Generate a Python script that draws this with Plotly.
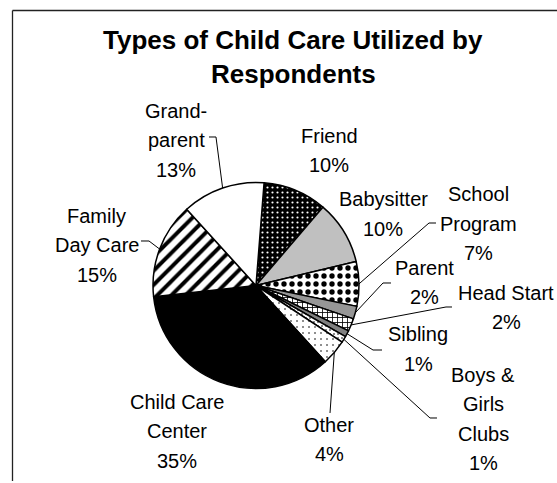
import math
import plotly.graph_objects as go

# ---------------- data ----------------
categories = ["Friend", "Babysitter", "School Program", "Parent", "Head Start", "Sibling",
              "Boys & Girls Clubs", "Other", "Child Care Center", "Family Day Care", "Grandparent"]
percent_values = [10, 10, 7, 2, 2, 1, 1, 4, 35, 15, 13]
label_names = [["Friend"], ["Babysitter"], ["School", "Program"], ["Parent"], ["Head Start"],
               ["Sibling"], ["Boys &", "Girls", "Clubs"], ["Other"], ["Child Care", "Center"],
               ["Family", "Day Care"], ["Grand-", "parent"]]
title_lines = ["Types of Child Care Utilized by", "Respondents"]

# ---------------- styles ----------------
pattern_shape = [".", "", ".", "", "+", "", ".", ".", "", "/", ""]
pattern_fg = ["white", "#c0c0c0", "black", "#969696", "black", "#808080", "#606060",
              "black", "black", "black", "white"]
pattern_bg = ["black", "#c0c0c0", "white", "#969696", "white", "#808080", "white",
              "white", "black", "white", "white"]
pattern_size = [5, 8, 8, 8, 5, 8, 4, 6, 8, 10, 8]
pattern_solid = [0.15, 0.3, 0.35, 0.3, 0.3, 0.3, 0.2, 0.06, 0.3, 0.4, 0.3]

W, H = 557, 483
CX, CY, R = 256, 285.5, 103
ROTATION = 4.5
FONT = "Liberation Sans, Arial, sans-serif"
LABEL_SIZE = 20
LINE_GAP = 29.5

# label placement (pixel center x, first baseline y, leader knee points near the label)
label_layout = {
    "Friend": (329, 143, None),
    "Babysitter": (383, 206.5, None),
    "School Program": (478, 201.5, [(436, 223), (429, 223)]),
    "Parent": (424, 275, [(391, 283), (383, 283)]),
    "Head Start": (506, 300, [(452, 307), (446, 307)]),
    "Sibling": (418, 341.5, [(382, 350), (373, 350)]),
    "Boys & Girls Clubs": (483, 382, [(437, 418), (430, 418)]),
    "Other": (329, 432, [(330, 413)]),
    "Child Care Center": (177, 409, None),
    "Family Day Care": (96.5, 223, [(141, 241), (149, 241)]),
    "Grandparent": (176, 118, [(209, 137), (216, 137)]),
}


def px(x):
    return x / W


def py(y):
    return 1 - y / H


fig = go.Figure()
fig.add_trace(go.Pie(
    labels=categories,
    values=percent_values,
    sort=False,
    direction="clockwise",
    rotation=ROTATION,
    textinfo="none",
    hoverinfo="label+percent",
    showlegend=False,
    domain=dict(x=[px(CX - R), px(CX + R)], y=[py(CY + R), py(CY - R)]),
    marker=dict(
        colors=pattern_bg,
        line=dict(color="black", width=1.5),
        pattern=dict(shape=pattern_shape, fgcolor=pattern_fg, bgcolor=pattern_bg,
                     size=pattern_size, solidity=pattern_solid, fillmode="replace"),
    ),
))

annotations = []
shapes = []

# title
title_baselines = [49.3, 83]
for txt, base in zip(title_lines, title_baselines):
    annotations.append(dict(
        text=f"<b>{txt}</b>", x=px(293), y=py(base - 9.3), xref="paper", yref="paper",
        xanchor="center", yanchor="middle", showarrow=False,
        font=dict(family=FONT, size=26, color="black")))

# slice labels and leader lines
total = sum(percent_values)
cum = 0
for cat, val, names in zip(categories, percent_values, label_names):
    mid = ROTATION + 360 * (cum + val / 2) / total
    cum += val
    cx, base, knees = label_layout[cat]
    lines = names + [f"{val}%"]
    for i, line in enumerate(lines):
        b = base + i * LINE_GAP
        annotations.append(dict(
            text=line, x=px(cx), y=py(b - 7.2), xref="paper", yref="paper",
            xanchor="center", yanchor="middle", showarrow=False,
            font=dict(family=FONT, size=LABEL_SIZE, color="black")))
    if knees:
        a = math.radians(mid)
        ex, ey = CX + R * math.sin(a), CY - R * math.cos(a)
        pts = knees + [(ex, ey)]
        path = "M " + " L ".join(f"{px(x):.5f},{py(y):.5f}" for x, y in pts)
        shapes.append(dict(type="path", path=path, xref="paper", yref="paper",
                           line=dict(color="black", width=1)))

# chart frame (top and left edges visible)
shapes.append(dict(type="line", xref="paper", yref="paper", x0=px(12.5), x1=px(W + 5),
                   y0=py(10.5), y1=py(10.5), line=dict(color="#222222", width=1.3)))
shapes.append(dict(type="line", xref="paper", yref="paper", x0=px(12.5), x1=px(12.5),
                   y0=py(10.5), y1=py(481), line=dict(color="#222222", width=1.3)))

fig.update_layout(
    width=W, height=H,
    margin=dict(l=0, r=0, t=0, b=0),
    paper_bgcolor="white", plot_bgcolor="white",
    annotations=annotations, shapes=shapes,
    font=dict(family=FONT),
)

fig.write_html("out.html",
               config={"displayModeBar": False},
               post_script="document.body.style.margin='0';document.body.style.overflow='hidden';")
